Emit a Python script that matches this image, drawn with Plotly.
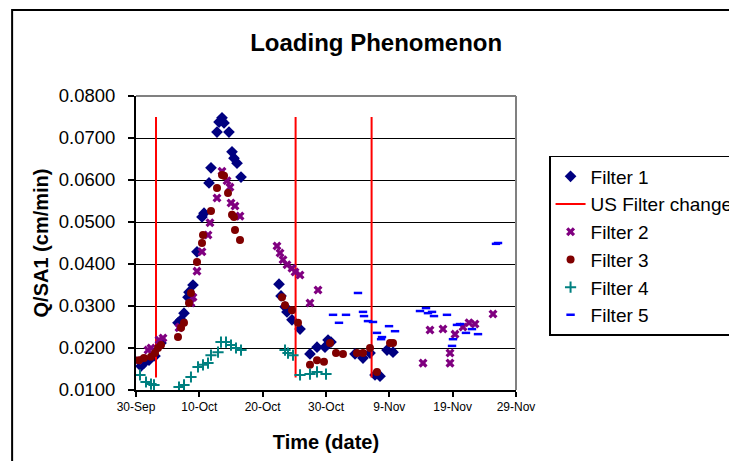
import pandas as pd
import plotly.graph_objects as go

START = "2002-09-30"

# Elapsed days since START and Q/SA1 readings (cm/min) for each filter
F1_DAYS = [0.79, 1.26, 2.05, 3.0, 3.95, 6.63, 7.11, 7.58, 8.21, 8.37, 9.0, 9.63, 10.42, 10.74,
           11.53, 11.84, 12.79, 13.11, 13.58, 13.9, 14.68, 15.16, 15.47, 15.95, 16.58,
           22.58, 22.9, 23.53, 23.84, 24.63, 25.9, 27.47, 28.58, 29.84, 30.32, 30.79,
           34.58, 35.84, 36.95, 37.74, 38.53, 39.63, 40.58]
F1_Q = [0.0157, 0.0164, 0.0171, 0.0181, 0.0212, 0.0260, 0.0267, 0.0283, 0.0321, 0.0333, 0.0350,
        0.0429, 0.0512, 0.0521, 0.0593, 0.0629, 0.0714, 0.0738, 0.0748, 0.0736, 0.0714, 0.0667,
        0.0652, 0.0640, 0.0607,
        0.0352, 0.0324, 0.0298, 0.0286, 0.0267, 0.0245, 0.0186, 0.0202, 0.0202, 0.0219, 0.0214,
        0.0186, 0.0176, 0.0188, 0.0136, 0.0133, 0.0195, 0.0190]

F2_DAYS = [0.32, 1.89, 2.37, 3.63, 4.26, 6.79, 6.95, 8.68, 9.0, 9.63, 10.42, 11.37, 11.68,
           12.79, 13.58, 14.37, 14.84, 15.0, 15.63, 16.42,
           22.26, 22.74, 23.21, 23.84, 24.63, 25.11, 25.9, 27.47, 28.74,
           45.32, 46.42, 48.47, 49.58, 49.58, 50.37, 51.63, 52.58, 53.53, 56.37]
F2_Q = [0.0171, 0.0195, 0.0200, 0.0219, 0.0224, 0.0248, 0.0250, 0.0307, 0.0321, 0.0383, 0.0429,
        0.0469, 0.0498, 0.0557, 0.0621, 0.0598, 0.0583, 0.0545, 0.0538, 0.0514,
        0.0443, 0.0426, 0.0410, 0.0398, 0.0390, 0.0381, 0.0374, 0.0307, 0.0338,
        0.0164, 0.0243, 0.0245, 0.0188, 0.0164, 0.0233, 0.0250, 0.0260, 0.0257, 0.0281]

F3_DAYS = [0.47, 1.26, 2.37, 3.0, 3.47, 3.95, 6.63, 7.11, 7.58, 8.37, 8.68, 9.63, 10.42, 10.58,
           11.84, 12.79, 13.58, 13.9, 14.53, 15.16, 15.47, 15.63, 16.42,
           23.05, 23.53, 24.63, 25.58, 27.47, 28.58, 29.68, 30.63, 31.58, 32.68,
           34.89, 35.84, 36.95, 38.05, 40.11, 40.58]
F3_Q = [0.0171, 0.0176, 0.0179, 0.0188, 0.0200, 0.0207, 0.0226, 0.0248, 0.0260, 0.0307, 0.0331,
        0.0405, 0.0450, 0.0469, 0.0526, 0.0581, 0.0612, 0.0610, 0.0569, 0.0517, 0.0512, 0.0481,
        0.0457,
        0.0321, 0.0302, 0.0290, 0.0260, 0.0160, 0.0171, 0.0167, 0.0212, 0.0188, 0.0186,
        0.0188, 0.0188, 0.0200, 0.0143, 0.0212, 0.0212]

F4_DAYS = [0.63, 1.58, 2.37, 2.84, 6.79, 7.58, 8.68, 9.79, 10.58, 11.37, 11.84, 12.95, 13.42,
           14.21, 15.0, 15.79, 16.58,
           23.53, 24.0, 24.79, 25.9, 27.47, 28.58, 30.0]
F4_Q = [0.0136, 0.0119, 0.0114, 0.0112, 0.0107, 0.0112, 0.0131, 0.0155, 0.0160, 0.0164, 0.0183,
        0.0190, 0.0214, 0.0214, 0.0207, 0.0200, 0.0195,
        0.0195, 0.0188, 0.0183, 0.0136, 0.0138, 0.0143, 0.0138]

F5_DAYS = [31.11, 32.05, 33.16, 35.05, 35.84, 36.0, 36.63, 37.42, 38.05, 38.84, 38.7, 39.95,
           40.9, 44.84, 45.79, 46.1, 46.74, 47.05, 49.1, 50.05, 49.9, 50.68, 51.16, 52.1,
           53.05, 54.0, 56.84, 57.16]
F5_Q = [0.0279, 0.0260, 0.0279, 0.0331, 0.0286, 0.0276, 0.0264, 0.0262, 0.0236, 0.0226, 0.0221,
        0.0252, 0.0240, 0.0288, 0.0295, 0.0283, 0.0286, 0.0276, 0.0279, 0.0221, 0.0205, 0.0255,
        0.0257, 0.0236, 0.0245, 0.0233, 0.0448, 0.0450]

# Upstream filter change events (days since START) and the span of each marker line
CHANGE_DAYS = [3.16, 25.2, 37.2]
CHANGE_LOW, CHANGE_HIGH = 0.013, 0.075

X_RANGE_DAYS = 60
TICK_STEP_DAYS = 10

start = pd.Timestamp(START)


def to_dates(days):
    return [start + pd.Timedelta(days=d) for d in days]


change_x, change_y = [], []
for d in CHANGE_DAYS:
    t = start + pd.Timedelta(days=d)
    change_x += [t, t, None]
    change_y += [CHANGE_LOW, CHANGE_HIGH, None]

fig = go.Figure()

fig.add_trace(go.Scatter(
    x=to_dates(F1_DAYS), y=F1_Q, mode="markers", name="Filter 1",
    marker=dict(symbol="diamond", size=9, color="#000080")))
fig.add_trace(go.Scatter(
    x=change_x, y=change_y, mode="lines", name="US Filter change",
    line=dict(color="#FF0000", width=2)))
fig.add_trace(go.Scatter(
    x=to_dates(F2_DAYS), y=F2_Q, mode="markers", name="Filter 2",
    marker=dict(symbol="x", size=8, color="#800080")))
fig.add_trace(go.Scatter(
    x=to_dates(F3_DAYS), y=F3_Q, mode="markers", name="Filter 3",
    marker=dict(symbol="circle", size=8, color="#800000")))
fig.add_trace(go.Scatter(
    x=to_dates(F4_DAYS), y=F4_Q, mode="markers", name="Filter 4",
    marker=dict(symbol="cross-thin", size=8, color="#008080",
                line=dict(color="#008080", width=2))))
fig.add_trace(go.Scatter(
    x=to_dates(F5_DAYS), y=F5_Q, mode="markers", name="Filter 5",
    marker=dict(symbol="line-ew", size=6, color="#0000FF",
                line=dict(color="#0000FF", width=2.5))))

FONT = "Liberation Sans, Arial, sans-serif"

fig.update_layout(
    width=729, height=461,
    margin=dict(l=136, r=213, t=96, b=71, autoexpand=False),
    paper_bgcolor="white", plot_bgcolor="white",
    font=dict(family=FONT, color="black"),
    title=dict(text="<b>Loading Phenomenon</b>", font=dict(size=24, family=FONT),
               x=0.516, xanchor="center", xref="container",
               y=0.907, yanchor="middle", yref="container"),
    showlegend=True,
    legend=dict(x=1.087, y=0.796, xanchor="left", yanchor="top",
                bgcolor="white", bordercolor="black", borderwidth=1.5,
                font=dict(size=19, family=FONT), tracegroupgap=0),
    shapes=[
        # chart frame
        dict(type="rect", xref="paper", yref="paper", x0=-0.326, x1=1.8, y0=-0.4, y1=1.2925,
             line=dict(color="black", width=2), fillcolor="rgba(0,0,0,0)", layer="below"),
        # plot-area top and right borders
        dict(type="line", xref="paper", yref="paper", x0=0, x1=1, y0=1, y1=1,
             line=dict(color="#808080", width=2), layer="above"),
        dict(type="line", xref="paper", yref="paper", x0=1, x1=1, y0=0, y1=1,
             line=dict(color="#808080", width=2), layer="above"),
    ],
)

fig.update_xaxes(
    type="date",
    range=[start, start + pd.Timedelta(days=X_RANGE_DAYS)],
    tick0=start, dtick=TICK_STEP_DAYS * 86400000, tickformat="%-d-%b",
    ticks="outside", ticklen=5, tickwidth=1.5, tickcolor="black",
    showline=True, linecolor="black", linewidth=2,
    showgrid=False, zeroline=False,
    tickfont=dict(size=12, family=FONT),
    title=dict(text="<b>Time (date)</b>", font=dict(size=20, family=FONT), standoff=22),
)

fig.update_yaxes(
    range=[0.01, 0.08], dtick=0.01, tickformat=".4f",
    ticks="outside", ticklen=6, tickwidth=1.5, tickcolor="black",
    showline=True, linecolor="black", linewidth=2,
    showgrid=True, gridcolor="black", gridwidth=1.2, zeroline=False,
    tickfont=dict(size=18.5, family=FONT), ticklabelstandoff=9,
    title=dict(text="<b>Q/SA1 (cm/min)</b>", font=dict(size=20, family=FONT), standoff=5),
)

fig.write_html("out.html")
